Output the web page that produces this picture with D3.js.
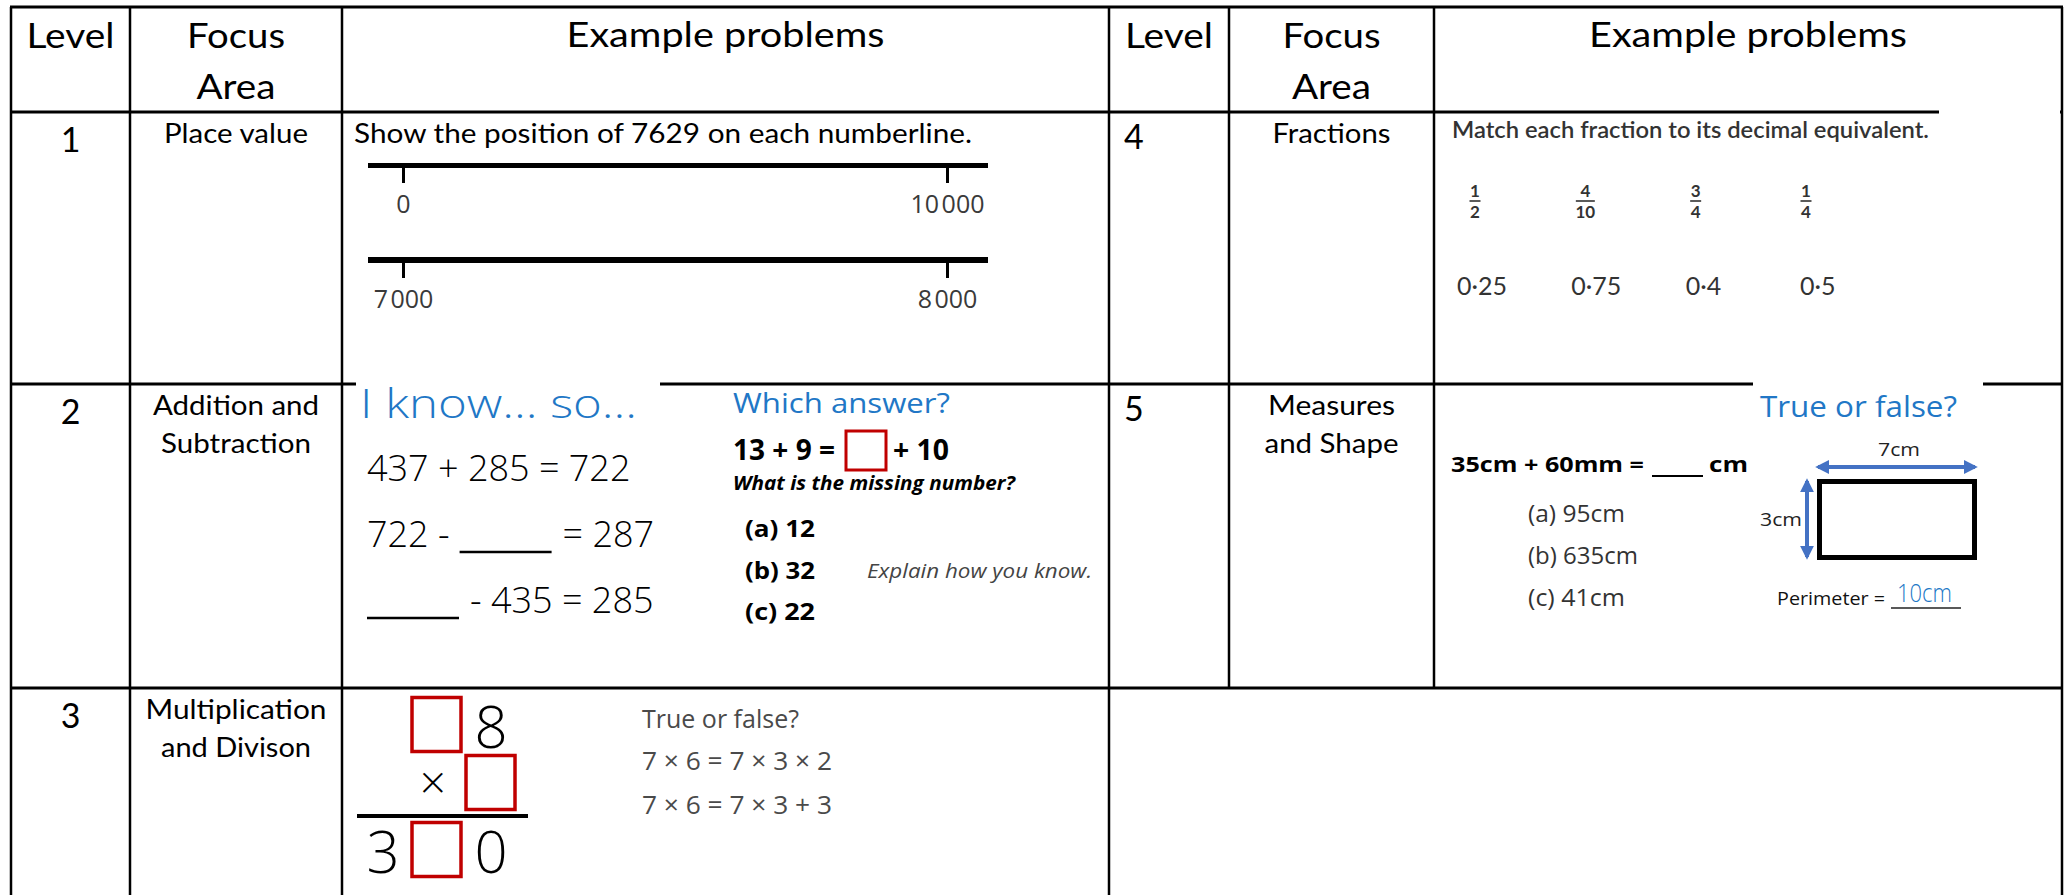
<!DOCTYPE html>
<html lang="en">
<head>
<meta charset="UTF-8">
<title>Example problems by level</title>
<script src="https://d3js.org/d3.v7.min.js"></script>
<style>
  body { margin: 0; background: #fff; overflow: hidden; }
  svg { display: block; }
</style>
</head>
<body>
<div id="chart"></div>
<script>
// ---- table content ----
const headerLevel = "Level";
const headerFocus = ["Focus", "Area"];
const headerExamples = "Example problems";
const levels = [1, 2, 3, 4, 5];
const focusAreas = [
  ["Place value"],
  ["Addition and", "Subtraction"],
  ["Multiplication", "and Divison"],
  ["Fractions"],
  ["Measures", "and Shape"]
];

// level 1 - place value
const placeValuePrompt = "Show the position of 7629 on each numberline.";
const numberLines = [[0, 10000], [7000, 8000]];

// level 2 - addition and subtraction (null = blank to fill)
const iKnowTitle = "I know... so...";
const iKnowLines = [
  ["437 + 285 = 722"],
  ["722 -", null, "= 287"],
  [null, "- 435 = 285"]
];
const whichTitle = "Which answer?";
const missingSum = ["13 + 9 =", "+ 10"];
const missingQuestion = "What is the missing number?";
const missingOptions = ["(a) 12", "(b) 32", "(c) 22"];
const explainText = "Explain how you know.";

// level 3 - multiplication ("" = red box, null = empty)
const multRows = [
  [null, "", "8"],
  [null, "\u00d7", ""],
  ["3", "", "0"]
];
const tfTitle = "True or false?";
const tfStatements = ["7 \u00d7 6 = 7 \u00d7 3 \u00d7 2", "7 \u00d7 6 = 7 \u00d7 3 + 3"];

// level 4 - fractions
const fractionPrompt = "Match each fraction to its decimal equivalent.";
const fractions = [[1, 2], [4, 10], [3, 4], [1, 4]];
const decimals = ["0\u00b725", "0\u00b775", "0\u00b74", "0\u00b75"];

// level 5 - measures and shape
const measureTitle = "True or false?";
const measureSum = ["35cm + 60mm =", "cm"];
const measureOptions = ["(a) 95cm", "(b) 635cm", "(c) 41cm"];
const rectLabels = ["7cm", "3cm"];
const perimeterLabel = "Perimeter =";
const perimeterAnswer = "10cm";

// ---- layout ----
const W = 2069, H = 895;
const colX = [11, 130, 342, 1109, 1229, 1434, 2062];
const rowY = [7, 112, 384, 688, 960];
const CAL = "Lato, 'Open Sans', sans-serif";
const GOTH = "'Open Sans', 'DejaVu Sans', sans-serif";
const BLUE = "#2177c6";
const RED = "#c00000";
const ARROW = "#4472c4";

const svg = d3.select("#chart").append("svg")
  .attr("width", W).attr("height", H)
  .attr("font-family", CAL);

function txt(g, x, y, s, o = {}) {
  const t = g.append("text")
    .attr("x", x).attr("y", y).text(s)
    .attr("font-family", o.family || CAL)
    .attr("font-size", o.size || 27)
    .attr("font-weight", o.weight || 400)
    .attr("font-style", o.style || "normal")
    .attr("fill", o.fill || "#000")
    .attr("text-anchor", o.anchor || "start");
  if (o.width) t.attr("textLength", o.width).attr("lengthAdjust", "spacingAndGlyphs");
  return t;
}

function hline(g, x1, x2, y, w = 2.5, c = "#000") {
  g.append("line").attr("x1", x1).attr("x2", x2).attr("y1", y).attr("y2", y)
    .attr("stroke", c).attr("stroke-width", w);
}

// ---- grid ----
const grid = svg.append("g");
rowY.slice(0, 4).forEach(y => hline(grid, colX[0] - 1, colX[6] + 1, y, 3));
colX.forEach((x, i) => {
  grid.append("line").attr("x1", x).attr("x2", x).attr("y1", rowY[0]).attr("y2", rowY[3])
    .attr("stroke", "#000").attr("stroke-width", 2.5);
  if (i < 4 || i === 6) {
    grid.append("line").attr("x1", x).attr("x2", x).attr("y1", rowY[3]).attr("y2", H)
      .attr("stroke", "#000").attr("stroke-width", 2.5);
  }
});
// pasted pictures cover bits of the ruling
[[356, 380, 304, 8], [1753, 380, 230, 8], [1939, 109, 121, 6]].forEach(r => {
  grid.append("rect").attr("x", r[0]).attr("y", r[1]).attr("width", r[2]).attr("height", r[3]).attr("fill", "#fff");
});

// ---- headers ----
const head = svg.append("g");
[0, 3].forEach(c => {
  txt(head, (colX[c] + colX[c + 1]) / 2, 48, headerLevel, { size: 35, anchor: "middle", width: 88 });
  headerFocus.forEach((s, i) => txt(head, (colX[c + 1] + colX[c + 2]) / 2, 48 + i * 51, s,
    { size: 35, anchor: "middle", width: i ? 79 : 98 }));
  txt(head, (colX[c + 2] + colX[c + 3]) / 2, 47, headerExamples, { size: 35, anchor: "middle", width: 318 });
});

// ---- level and focus columns ----
const focusWidths = [[144], [166, 150], [181, 150], [118], [127, 134]];
const body = svg.append("g");
levels.forEach((lv, i) => {
  const left = i < 3;
  const top = left ? rowY[i + 1] : rowY[i - 2];
  const c = left ? 0 : 3;
  if (left) txt(body, (colX[0] + colX[1]) / 2, top + 40, lv, { size: 34, anchor: "middle" });
  else txt(body, colX[3] + 15, top + 37, lv, { size: 34 });
  focusAreas[i].forEach((s, j) => txt(body, (colX[c + 1] + colX[c + 2]) / 2, top + 31 + j * 38, s,
    { size: 26, anchor: "middle", width: focusWidths[i][j] }));
});

// ---- level 1: number lines ----
const l1 = svg.append("g");
txt(l1, 354, 143, placeValuePrompt, { size: 27, width: 618 });
const nlTop = [163, 257];
numberLines.forEach((dom, i) => {
  const x = d3.scaleLinear().domain(dom).range([403, 947]);
  const y0 = nlTop[i];
  const thick = i ? 6 : 5;
  l1.append("rect").attr("x", x.range()[0] - 35).attr("y", y0)
    .attr("width", x.range()[1] - x.range()[0] + 76).attr("height", thick).attr("fill", "#000");
  const ax = l1.append("g").attr("transform", `translate(0,${y0 + thick})`)
    .call(d3.axisBottom(x).tickValues(dom).tickSize(15).tickPadding(12)
      .tickFormat(d => d3.format(",")(d).replace(",", "\u200a")));
  ax.select(".domain").remove();
  ax.selectAll(".tick line").attr("stroke", "#000").attr("stroke-width", 3);
  ax.selectAll(".tick text").attr("font-family", GOTH).attr("font-size", 25)
    .attr("font-weight", 400).attr("fill", "#3a3a3a");
});

// ---- level 2 ----
const l2 = svg.append("g");
txt(l2, 360, 418, iKnowTitle, { family: GOTH, size: 40, weight: 300, fill: BLUE, width: 277 });
const eqY = d3.scalePoint().domain(d3.range(iKnowLines.length)).range([481, 613]);
iKnowLines.forEach((parts, i) => {
  let cx = 367;
  parts.forEach(p => {
    if (p === null) {
      hline(l2, cx, cx + 92, eqY(i) + 5, 2.5);
      cx += 92 + 11;
    } else {
      const t = txt(l2, cx, eqY(i), p, { family: GOTH, size: 36, weight: 300 });
      cx += t.node().getComputedTextLength() + 10;
    }
  });
});
txt(l2, 733, 413, whichTitle, { family: GOTH, size: 27, fill: BLUE, width: 217 });
txt(l2, 733, 460, missingSum[0], { family: GOTH, size: 28, weight: 700, width: 102 });
l2.append("rect").attr("x", 846).attr("y", 431).attr("width", 40).attr("height", 39)
  .attr("fill", "none").attr("stroke", RED).attr("stroke-width", 3);
txt(l2, 893, 460, missingSum[1], { family: GOTH, size: 28, weight: 700, width: 56 });
txt(l2, 733, 490, missingQuestion, { family: GOTH, size: 20, weight: 700, style: "italic", width: 282 });
const optY = d3.scalePoint().domain(missingOptions).range([537, 620]);
missingOptions.forEach(s => txt(l2, 745, optY(s), s, { family: GOTH, size: 23, weight: 700, width: 70 }));
txt(l2, 867, 578, explainText, { family: GOTH, size: 20, style: "italic", fill: "#444", width: 225 });

// ---- level 3 ----
const l3 = svg.append("g");
const mx = d3.scaleBand().domain([0, 1, 2]).range([356, 518]);
const myTop = [696, 754, 821];
multRows.forEach((row, r) => {
  row.forEach((cell, c) => {
    if (cell === null) return;
    if (cell === "") {
      l3.append("rect").attr("x", mx(c) + 2).attr("y", myTop[r] + 1.5)
        .attr("width", mx.bandwidth() - 5).attr("height", 54)
        .attr("fill", "none").attr("stroke", RED).attr("stroke-width", 3.5);
    } else if (cell === "\u00d7") {
      txt(l3, mx(c) + mx.bandwidth() / 2 - 4, myTop[r] + 45, cell, { family: GOTH, size: 46, weight: 300, anchor: "middle" });
    } else {
      txt(l3, mx(c) + mx.bandwidth() / 2, myTop[r] + 52, cell, { family: GOTH, size: 58, weight: 300, anchor: "middle" });
    }
  });
});
hline(l3, 357, 528, 816, 4);
txt(l3, 642, 728, tfTitle, { family: GOTH, size: 25, fill: "#4a4a4a", width: 157 });
const tfY = d3.scalePoint().domain(tfStatements).range([770, 814]);
tfStatements.forEach(s => txt(l3, 642, tfY(s), s, { family: GOTH, size: 26, fill: "#4a4a4a", width: 190 }));

// ---- level 4 ----
const l4 = svg.append("g");
txt(l4, 1452, 138, fractionPrompt, { size: 22, weight: 600, fill: "#333", width: 477 });
const fx = d3.scalePoint().domain(d3.range(fractions.length)).range([1475, 1806]);
fractions.forEach((f, i) => {
  txt(l4, fx(i), 197, f[0], { size: 17, weight: 700, fill: "#333", anchor: "middle" });
  txt(l4, fx(i), 218, f[1], { size: 17, weight: 700, fill: "#333", anchor: "middle" });
  const bw = f[1] >= 10 ? 19 : 11;
  hline(l4, fx(i) - bw / 2, fx(i) + bw / 2, 201, 1.6, "#333");
});
const dx = d3.scalePoint().domain(decimals).range([1457, 1800]);
decimals.forEach(s => txt(l4, dx(s), 295, s, { size: 25, fill: "#333" }));

// ---- level 5 ----
const l5 = svg.append("g");
txt(l5, 1760, 417, measureTitle, { family: GOTH, size: 30, fill: BLUE, width: 197 });
txt(l5, 1451, 472, measureSum[0], { family: GOTH, size: 22, weight: 700, width: 193 });
hline(l5, 1652, 1703, 476, 2);
txt(l5, 1709, 472, measureSum[1], { family: GOTH, size: 22, weight: 700, width: 39 });
const mOptY = d3.scalePoint().domain(measureOptions).range([522, 606]);
const mOptW = [97, 110, 97];
measureOptions.forEach((s, i) => txt(l5, 1528, mOptY(s), s, { family: GOTH, size: 24, fill: "#333", width: mOptW[i] }));

svg.append("defs").append("marker")
  .attr("id", "head").attr("viewBox", "0 0 10 10").attr("refX", 8).attr("refY", 5)
  .attr("markerWidth", 14).attr("markerHeight", 14).attr("markerUnits", "userSpaceOnUse")
  .attr("orient", "auto-start-reverse")
  .append("path").attr("d", "M0,0L10,5L0,10Z").attr("fill", ARROW);
l5.append("line").attr("x1", 1818).attr("x2", 1975).attr("y1", 467).attr("y2", 467)
  .attr("stroke", ARROW).attr("stroke-width", 4)
  .attr("marker-start", "url(#head)").attr("marker-end", "url(#head)");
l5.append("line").attr("x1", 1807).attr("x2", 1807).attr("y1", 481).attr("y2", 557)
  .attr("stroke", ARROW).attr("stroke-width", 4)
  .attr("marker-start", "url(#head)").attr("marker-end", "url(#head)");
l5.append("rect").attr("x", 1819.5).attr("y", 481.5).attr("width", 155).attr("height", 76)
  .attr("fill", "none").attr("stroke", "#000").attr("stroke-width", 5);
txt(l5, 1899, 456, rectLabels[0], { family: GOTH, size: 19, fill: "#222", anchor: "middle", width: 42 });
txt(l5, 1760, 526, rectLabels[1], { family: GOTH, size: 19, fill: "#222", width: 42 });
txt(l5, 1777, 605, perimeterLabel, { family: GOTH, size: 18, fill: "#111", width: 108 });
txt(l5, 1897, 602, perimeterAnswer, { family: GOTH, size: 25, weight: 300, fill: BLUE, width: 55 });
hline(l5, 1891, 1961, 608, 1.5, "#222");
</script>
</body>
</html>
